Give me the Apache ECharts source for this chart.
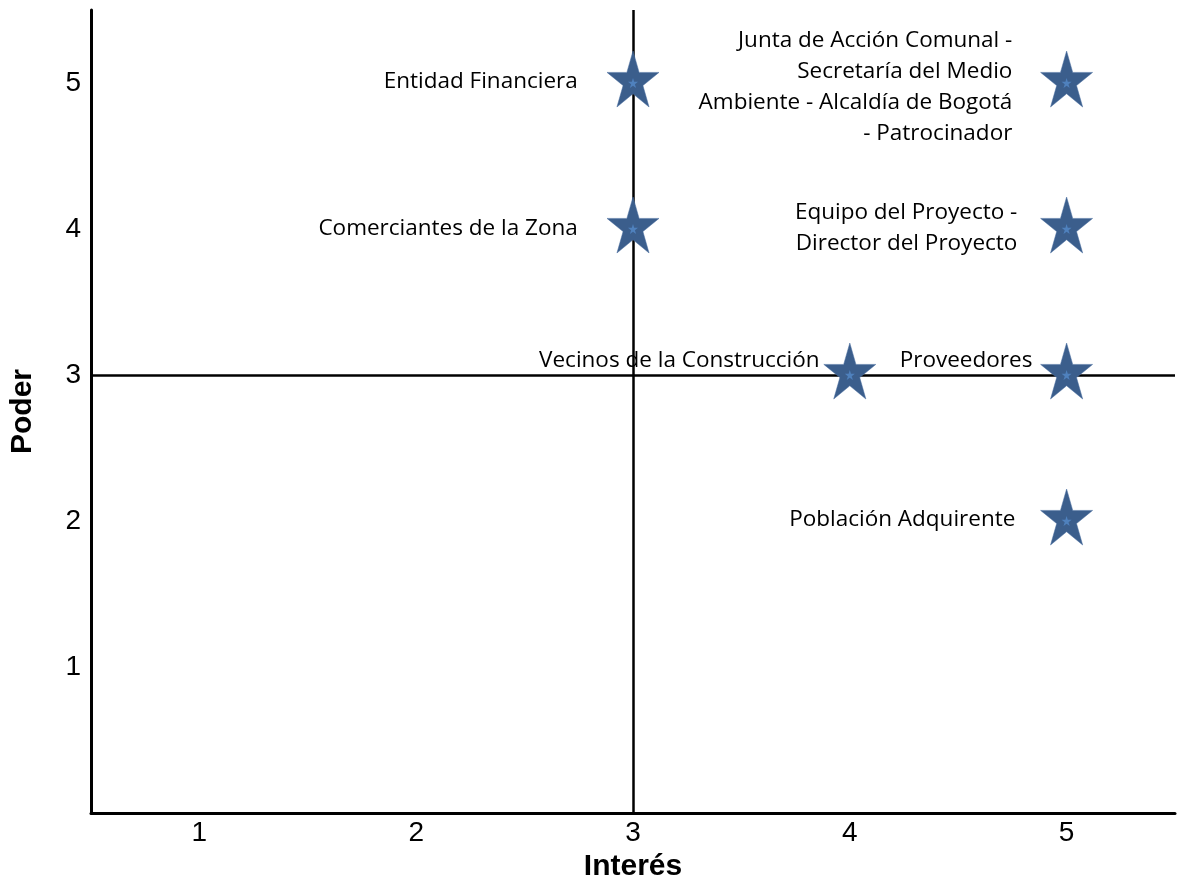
<!DOCTYPE html>
<html>
<head>
<meta charset="utf-8">
<script src="https://cdn.jsdelivr.net/npm/echarts@6/dist/echarts.min.js"></script>
<style>html,body{margin:0;padding:0;background:#fff;overflow:hidden}#c{width:1178px;height:887px}</style>
</head>
<body>
<div id="c"></div>
<script>
const stakeholders = [
  'Entidad Financiera',
  'Comerciantes de la Zona',
  'Vecinos de la Construcción',
  'Proveedores',
  'Población Adquirente',
  'Equipo del Proyecto -\nDirector del Proyecto',
  'Junta de Acción Comunal -\nSecretaría del Medio\nAmbiente - Alcaldía de Bogotá\n- Patrocinador'
];
const interes = [3, 3, 4, 5, 5, 5, 5];
const poder = [5, 4, 3, 3, 2, 4, 5];
const xTicks = [1, 2, 3, 4, 5];
const yTicks = [1, 2, 3, 4, 5];

// label placement tweaks (style only): [distance, dy]
const labelLayout = [[29, 3], [29, 4], [4, -10], [8, -10], [25, 3], [23, 3], [28, 8]];

const STAR = 'path://M0,-100 L22.45,-30.9 L95.1,-30.9 L36.3,11.8 L58.8,80.9 L0,38.2 L-58.8,80.9 L-36.3,11.8 L-95.1,-30.9 L-22.45,-30.9 Z';
const FONT = '"Liberation Sans", Arial, sans-serif';

const points = interes.map((x, i) => ({
  value: [x, poder[i]],
  name: stakeholders[i],
  label: {
    show: true,
    position: 'left',
    distance: labelLayout[i][0],
    offset: [0, labelLayout[i][1]],
    formatter: '{b}',
    color: '#000',
    fontFamily: '"Open Sans", Lato, sans-serif',
    fontSize: 22.5,
    lineHeight: 31,
    align: 'right'
  }
}));
const inner = interes.map((x, i) => [x, poder[i]]);

const chart = echarts.init(document.getElementById('c'), null, {renderer: 'canvas', width: 1178, height: 887});
chart.setOption({
  animation: false,
  backgroundColor: '#fff',
  grid: {left: 90, width: 1088, top: 10, bottom: 74, containLabel: false},
  xAxis: {
    type: 'value', min: 0.5, max: 5.5, interval: 0.5,
    name: 'Interés', nameLocation: 'middle', nameGap: 39,
    nameTextStyle: {fontFamily: FONT, fontSize: 30, fontWeight: 'bold', color: '#000'},
    axisLine: {show: true, onZero: false, lineStyle: {color: '#000', width: 3}},
    axisTick: {show: false},
    splitLine: {show: false},
    axisLabel: {
      margin: 6, color: '#000', fontSize: 28, fontFamily: FONT,
      formatter: v => xTicks.includes(v) ? String(v) : ''
    }
  },
  yAxis: {
    type: 'value', min: 0, max: 5.5, interval: 0.5,
    name: 'Poder', nameLocation: 'middle', nameGap: 53, nameRotate: 90,
    nameTextStyle: {fontFamily: FONT, fontSize: 30, fontWeight: 'bold', color: '#000'},
    axisLine: {show: true, onZero: false, lineStyle: {color: '#000', width: 3}},
    axisTick: {show: false},
    splitLine: {show: false},
    axisLabel: {
      margin: 10, color: '#000', fontSize: 28, fontFamily: FONT,
      formatter: v => yTicks.includes(v) ? String(v) : ''
    }
  },
  series: [
    {
      type: 'scatter',
      symbol: STAR,
      symbolSize: [52, 56],
      symbolOffset: [0, -4],
      itemStyle: {color: '#3b5e8c', opacity: 1, borderColor: '#4a6fa0', borderWidth: 0.5},
      data: points,
      z: 3,
      markLine: {
        silent: true,
        symbol: 'none',
        label: {show: false},
        lineStyle: {color: '#000', width: 2.5, type: 'solid', opacity: 1},
        data: [{xAxis: 3}, {yAxis: 3}],
        z: 1
      }
    },
    {
      type: 'scatter',
      symbol: STAR,
      symbolSize: [10, 10],
      silent: true,
      itemStyle: {color: '#4f81bd', opacity: 1},
      data: inner,
      z: 4
    }
  ]
});
</script>
</body>
</html>
